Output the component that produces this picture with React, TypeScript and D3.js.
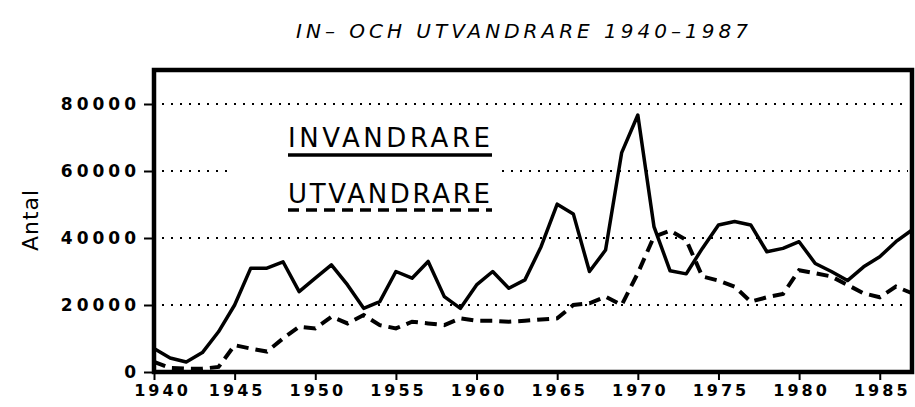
import React, { useRef, useEffect } from "react";
import * as d3 from "d3";

export const years = d3.range(1940, 1988);

// INVANDRARE (solid)
export const invandrare = [
  7000, 4200, 3000, 5800, 12000, 20000, 31000, 31000, 32900, 24000,
  28000, 32000, 26000, 19000, 21000, 30000, 28000, 33000, 22500, 19000,
  26000, 30000, 25000, 27500, 37400, 50100, 47200, 30000, 36400, 65500,
  76700, 43400, 30200, 29300, 36900, 43900, 44900, 43900, 35900, 36900,
  38900, 32400, 30000, 27300, 31400, 34400, 38900, 42400,
];

// UTVANDRARE (dashed)
export const utvandrare = [
  3000, 1200, 1000, 1000, 1500, 8000, 7000, 6100, 10000, 13500,
  13000, 16500, 14500, 17000, 14000, 13000, 15000, 14500, 14000, 16000,
  15300, 15300, 15000, 15300, 15700, 16000, 20000, 20500, 22500, 20000,
  29500, 40400, 42200, 39400, 28500, 27300, 25500, 21000, 22300, 23300,
  30400, 29500, 28500, 26000, 23500, 22300, 25500, 23500,
];

export const yTicks = [0, 20000, 40000, 60000, 80000];
export const xTicks = [1940, 1945, 1950, 1955, 1960, 1965, 1970, 1975, 1980, 1985];

const W = 915;
const H = 407;

const App = () => {
  const ref = useRef<SVGSVGElement>(null);

  useEffect(() => {
    const svg = d3.select(ref.current);
    svg.selectAll("*").remove();

    const left = 154;
    const right = 912;
    const top = 70;
    const bottom = 372;

    const x = d3.scaleLinear().domain([1940, 1987]).range([left, right]);
    const y = d3.scaleLinear().domain([0, 90150]).range([bottom, top]);

    svg
      .append("text")
      .attr("x", 296)
      .attr("y", 38)
      .attr("textLength", 452)
      .attr("lengthAdjust", "spacing")
      .style("font-family", "DejaVu Sans")
      .style("font-style", "italic")
      .style("font-size", "20px")
      .text("IN\u2013 OCH UTVANDRARE 1940\u20131987");

    svg
      .append("text")
      .attr("transform", `translate(38, 220) rotate(-90)`)
      .attr("text-anchor", "middle")
      .style("font-family", "DejaVu Sans")
      .style("font-size", "22px")
      .style("letter-spacing", "1px")
      .text("Antal");

    // dotted gridlines
    const grid = svg.append("g");
    const gridSegs: [number, number, number][] = [
      [20000, left + 8, right - 4],
      [40000, left + 8, right - 4],
      [60000, left + 8, 230], // broken around the legend
      [60000, 502, right - 4],
      [80000, left + 8, right - 4],
    ];
    gridSegs.forEach(([v, a, b]) => {
      grid
        .append("line")
        .attr("x1", a)
        .attr("x2", b)
        .attr("y1", y(v))
        .attr("y2", y(v))
        .attr("stroke", "#000")
        .attr("stroke-width", 2)
        .attr("stroke-dasharray", "2,7");
    });

    // axes
    const yAxis = svg
      .append("g")
      .attr("transform", `translate(${left},0)`)
      .call(
        d3
          .axisLeft(y)
          .tickValues(yTicks)
          .tickSize(10)
          .tickPadding(4)
          .tickFormat(d3.format("d"))
      );
    yAxis.select(".domain").remove();
    yAxis.selectAll("line").attr("stroke-width", 2);
    yAxis
      .selectAll("text")
      .style("font-family", "DejaVu Sans")
      .style("font-weight", "bold")
      .style("font-size", "17px")
      .style("letter-spacing", "4px")
      .attr("fill", "#000");

    const xAxis = svg
      .append("g")
      .attr("transform", `translate(0,${bottom})`)
      .call(
        d3
          .axisBottom(x)
          .tickValues(xTicks)
          .tickSize(8)
          .tickPadding(5)
          .tickFormat(d3.format("d"))
      );
    xAxis.select(".domain").remove();
    xAxis.selectAll("line").attr("stroke-width", 2);
    xAxis
      .selectAll("text")
      .style("font-family", "DejaVu Sans")
      .style("font-weight", "bold")
      .style("font-size", "16px")
      .style("letter-spacing", "3px")
      .attr("dx", (d) => (d === 1940 ? "8px" : "2px"))
      .attr("fill", "#000");

    // series
    const line = (vals: number[]) =>
      d3
        .line<number>()
        .x((_, i) => x(years[i]))
        .y((d) => y(d))(vals);

    svg
      .append("path")
      .attr("d", line(utvandrare))
      .attr("fill", "none")
      .attr("stroke", "#000")
      .attr("stroke-width", 4)
      .attr("stroke-dasharray", "12,7");

    svg
      .append("path")
      .attr("d", line(invandrare))
      .attr("fill", "none")
      .attr("stroke", "#000")
      .attr("stroke-width", 3.5)
      .attr("stroke-linejoin", "round");

    // frame
    svg
      .append("rect")
      .attr("x", left)
      .attr("y", top)
      .attr("width", right - left)
      .attr("height", bottom - top)
      .attr("fill", "none")
      .attr("stroke", "#000")
      .attr("stroke-width", 4.5);

    // legend
    const legend = svg.append("g");
    legend
      .append("text")
      .attr("x", 288)
      .attr("y", 147)
      .attr("textLength", 202)
      .attr("lengthAdjust", "spacing")
      .style("font-family", "DejaVu Sans")
      .style("font-size", "26px")
      .text("INVANDRARE");
    legend
      .append("line")
      .attr("x1", 288)
      .attr("x2", 492)
      .attr("y1", 155)
      .attr("y2", 155)
      .attr("stroke", "#000")
      .attr("stroke-width", 3.5);
    legend
      .append("text")
      .attr("x", 288)
      .attr("y", 203)
      .attr("textLength", 202)
      .attr("lengthAdjust", "spacing")
      .style("font-family", "DejaVu Sans")
      .style("font-size", "26px")
      .text("UTVANDRARE");
    legend
      .append("line")
      .attr("x1", 288)
      .attr("x2", 492)
      .attr("y1", 210)
      .attr("y2", 210)
      .attr("stroke", "#000")
      .attr("stroke-width", 3.5)
      .attr("stroke-dasharray", "11,7");
  }, []);

  return (
    <svg
      ref={ref}
      width={W}
      height={H}
      style={{ position: "absolute", left: 0, top: 0, background: "#fff" }}
    ></svg>
  );
};

export default App;
